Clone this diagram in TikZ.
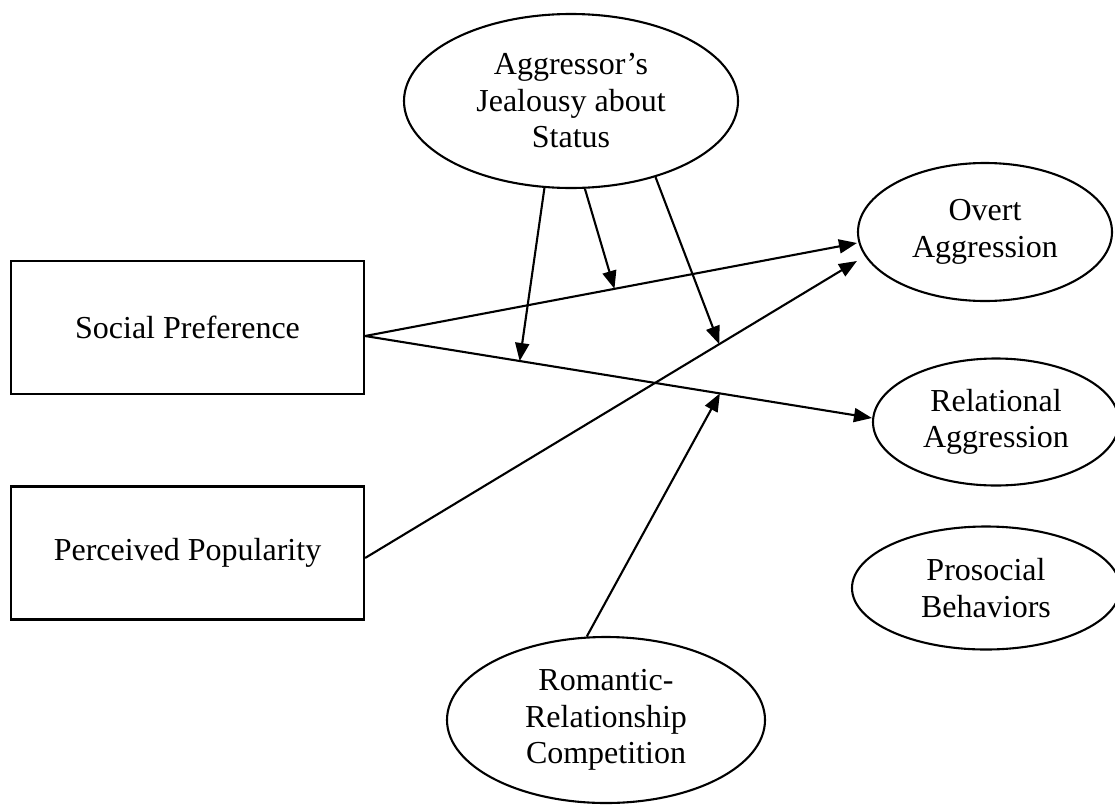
\documentclass[tikz,border=0pt]{standalone}
\usepackage{fontspec}
\setmainfont{Liberation Serif}
\usetikzlibrary{shapes.geometric,arrows.meta,calc}
\begin{document}
\begin{tikzpicture}[x=1pt,y=-1pt,
  every node/.style={font=\fontsize{32}{36.5}\selectfont, align=center, inner sep=0pt},
  boxnode/.style={draw, line width=2.2pt, rectangle, minimum width=353pt, minimum height=133pt},
  ell/.style={draw, line width=2.1pt, ellipse},
  arr/.style={line width=2.1pt, -{Triangle[length=18pt,width=14pt]}}
]
\useasboundingbox (0,0) rectangle (1115,806);
\node[boxnode] (sp) at (187.5,327.5) {Social Preference};
\node[boxnode] (pp) at (187.5,553) {Perceived Popularity};
\node[ell, minimum width=334pt, minimum height=174pt] (jeal) at (571,101) {Aggressor’s\\Jealousy about\\Status};
\node[ell, minimum width=254pt, minimum height=138pt] (ov) at (985,232) {Overt\\Aggression};
\node[ell, minimum width=246pt, minimum height=127pt] (rel) at (996,422) {Relational\\Aggression};
\node[ell, minimum width=268pt, minimum height=123pt] (pro) at (986,588) {Prosocial\\Behaviors};
\node[ell, minimum width=318pt, minimum height=166pt] (rom) at (606,720) {Romantic-\\Relationship\\Competition};

\coordinate (spOut) at ([yshift=-8.5pt]sp.east);
\coordinate (ppOut) at ([yshift=-5pt]pp.east);
\coordinate (ovInA) at ([yshift=-11pt]ov.west);
\coordinate (ovInB) at ([yshift=-29pt]ov.west);
\coordinate (relIn) at ([yshift=4pt]rel.west);

\draw[arr] (spOut) -- (ovInA);
\draw[arr] (spOut) -- (relIn);
\draw[arr] (ppOut) -- (ovInB);

\coordinate (mA) at ($(spOut)!0.305!(relIn)$);
\coordinate (mB) at ($(spOut)!0.507!(ovInA)$);
\coordinate (mC) at ($(ppOut)!0.72!(ovInB)$);
\coordinate (mR) at ($(spOut)!0.70!(relIn)$);

\draw[arr] (jeal.-107.6) -- (mA);
\draw[arr] (jeal.-81) -- (mB);
\draw[arr] (jeal.-42.8) -- (mC);
\draw[arr] (rom.103.5) -- (mR);
\end{tikzpicture}
\end{document}
